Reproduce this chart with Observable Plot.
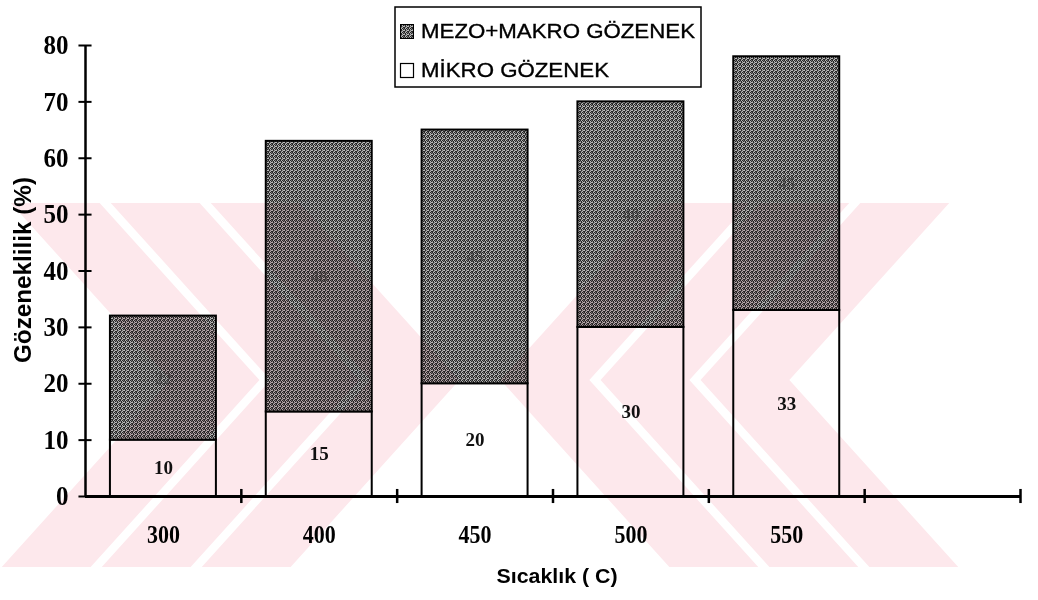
<!DOCTYPE html>
<html>
<head>
<meta charset="utf-8">
<script src="https://cdn.jsdelivr.net/npm/d3@7"></script>
<script src="https://cdn.jsdelivr.net/npm/@observablehq/plot@0.6"></script>
<style>
  html, body { margin: 0; padding: 0; background: #fff; }
  #wrap { position: relative; width: 1038px; height: 600px; overflow: hidden; }
  #wrap svg { position: absolute; left: 0; top: 0; }
  #wm { mix-blend-mode: multiply; pointer-events: none; }
</style>
</head>
<body>
<div id="wrap"></div>
<script>
// Temperatures (°C) on the x axis, plus one empty slot at the end of the axis
const categories = ["300", "400", "450", "500", "550"];
const slots = 6;
// Porosity (%) split into micro pores and meso + macro pores
const micro = [10, 15, 20, 30, 33];
const mesoMacro = [22, 48, 45, 40, 45];
const yTicks = [0, 10, 20, 30, 40, 50, 60, 70, 80];
const legendLabels = ["MEZO+MAKRO GÖZENEK", "MİKRO GÖZENEK"];
const xTitle = "Sıcaklık ( C)";
const yTitle = "Gözeneklilik (%)";

const rows = categories.map((c, i) => ({i, c, micro: micro[i], meso: mesoMacro[i]}));
const half = 0.34; // half bar width, in slot units

const chart = Plot.plot({
  width: 1038,
  height: 600,
  marginLeft: 85,
  marginRight: 18,
  marginTop: 45,
  marginBottom: 104,
  style: {background: "transparent", fontFamily: "'Liberation Serif', 'Times New Roman', serif", color: "#000", overflow: "visible"},
  x: {domain: [0, slots]},
  y: {domain: [0, 80]},
  marks: [
    Plot.rect(rows, {x1: d => d.i + 0.5 - half, x2: d => d.i + 0.5 + half, y1: 0, y2: "micro",
      fill: "white", stroke: "black", strokeWidth: 2}),
    Plot.rect(rows, {x1: d => d.i + 0.5 - half, x2: d => d.i + 0.5 + half, y1: "micro", y2: d => d.micro + d.meso,
      fill: "url(#stipple)", stroke: "black", strokeWidth: 2}),
    Plot.text(rows, {x: d => d.i + 0.5, y: d => d.micro / 2, text: "micro",
      fontSize: 19, fontWeight: "bold", fill: "#111"}),
    Plot.text(rows, {x: d => d.i + 0.5, y: d => d.micro + d.meso / 2, text: "meso",
      fontSize: 17, fontWeight: "bold", fill: "#333", fillOpacity: 0.55}),
    // axis lines and the crossing tick marks
    Plot.ruleX([0], {y1: 0, y2: 80, strokeWidth: 2.5}),
    Plot.ruleY([0], {strokeWidth: 3}),
    Plot.ruleY(yTicks, {x1: -0.042, x2: 0.042, strokeWidth: 2}),
    Plot.ruleX(d3.range(1, slots + 1), {y1: -1.25, y2: 1.25, strokeWidth: 2.5}),
    Plot.axisY({ticks: yTicks, tickSize: 0, tickPadding: 17, label: null,
      fontSize: 27, fontWeight: "bold"}),
    Plot.axisX({ticks: categories.map((c, i) => i + 0.5), tickFormat: v => categories[Math.floor(v)],
      tickSize: 0, tickPadding: 28, label: null, fontSize: 26, fontWeight: "bold"})
  ]
});

document.getElementById("wrap").appendChild(chart);
const svg = d3.select(chart);

// narrow, tight tick labels
svg.selectAll('g[aria-label="y-axis tick label"] text').each(function() {
  const t = this.textContent;
  d3.select(this).attr("textLength", 12.5 * t.length).attr("lengthAdjust", "spacingAndGlyphs");
});
svg.selectAll('g[aria-label="x-axis tick label"] text').each(function() {
  const t = this.textContent;
  d3.select(this).attr("textLength", 11 * t.length).attr("lengthAdjust", "spacingAndGlyphs");
});

// grainy fill for the meso + macro part
const shades = ["#262626", "#7a7a7a", "#b8b8b8"];
const grain = ["0201", "1020", "2012", "0120"];
const pat = svg.insert("defs", ":first-child").append("pattern")
  .attr("id", "stipple").attr("width", 4).attr("height", 4).attr("patternUnits", "userSpaceOnUse");
grain.forEach((row, r) => [...row].forEach((k, c) => {
  pat.append("rect").attr("x", c).attr("y", r).attr("width", 1).attr("height", 1).attr("fill", shades[+k]);
}));

// axis titles
const sans = "'Liberation Sans', Arial, sans-serif";
svg.append("text").attr("x", 557).attr("y", 583).attr("text-anchor", "middle")
  .attr("font-family", sans).attr("font-weight", "bold").attr("font-size", 21)
  .attr("textLength", 121).attr("lengthAdjust", "spacingAndGlyphs").text(xTitle);
svg.append("text").attr("transform", "translate(31,270) rotate(-90)").attr("text-anchor", "middle")
  .attr("font-family", sans).attr("font-weight", "bold").attr("font-size", 23)
  .attr("textLength", 186).attr("lengthAdjust", "spacingAndGlyphs").text(yTitle);

// legend box
const lg = svg.append("g");
lg.append("rect").attr("x", 395).attr("y", 7).attr("width", 306).attr("height", 80)
  .attr("fill", "white").attr("stroke", "black").attr("stroke-width", 1.5);
lg.append("rect").attr("x", 400.5).attr("y", 24.5).attr("width", 13).attr("height", 14)
  .attr("fill", "url(#stipple)").attr("stroke", "black").attr("stroke-width", 1);
lg.append("rect").attr("x", 400.5).attr("y", 63.5).attr("width", 13).attr("height", 14)
  .attr("fill", "white").attr("stroke", "black").attr("stroke-width", 1.2);
[[legendLabels[0], 38, 274], [legendLabels[1], 77, 188]].forEach(([t, y, w]) => {
  lg.append("text").attr("x", 421).attr("y", y).attr("text-anchor", "start")
    .attr("font-family", sans).attr("font-size", 21)
    .attr("stroke", "black").attr("stroke-width", 0.35)
    .attr("textLength", w).attr("lengthAdjust", "spacingAndGlyphs").text(t);
});

// faint striped emblem behind the plot
const wm = d3.select("#wrap").append("svg").attr("id", "wm").attr("width", 1038).attr("height", 600);
wm.append("clipPath").attr("id", "wmclip").append("rect").attr("x", 0).attr("y", 203).attr("width", 1038).attr("height", 364);
const wg = wm.append("g").attr("clip-path", "url(#wmclip)").attr("fill", "none")
  .attr("stroke", "#fde8ec").attr("stroke-width", 66).attr("stroke-linejoin", "miter").attr("stroke-miterlimit", 10);
const midY = 380, arm = 204;
[215, 315, 415].forEach(ax => {
  wg.append("polyline").attr("points", `${ax - arm},${midY - 226} ${ax},${midY} ${ax - arm},${midY + 226}`);
});
[745, 645, 545].forEach(ax => {
  wg.append("polyline").attr("points", `${ax + arm},${midY - 226} ${ax},${midY} ${ax + arm},${midY + 226}`);
});
</script>
</body>
</html>
